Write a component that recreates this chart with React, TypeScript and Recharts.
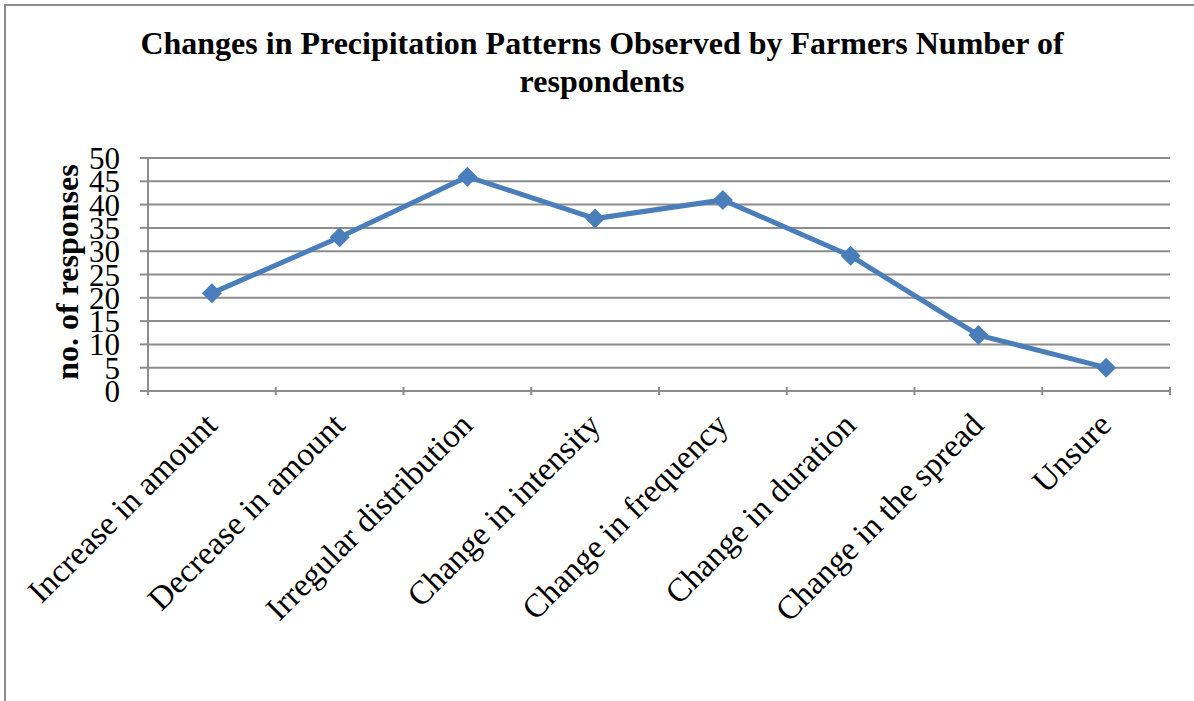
import { LineChart, Line, XAxis, YAxis, CartesianGrid } from 'recharts';

const categories = [
  'Increase in amount',
  'Decrease in amount',
  'Irregular distribution',
  'Change in intensity',
  'Change in frequency',
  'Change in duration',
  'Change in the spread',
  'Unsure',
];

const responses = [21, 33, 46, 37, 41, 29, 12, 5];

const yTicks = [0, 5, 10, 15, 20, 25, 30, 35, 40, 45, 50];

// category boundaries for the x tick marks
const boundaryTicks = [0, 1, 2, 3, 4, 5, 6, 7, 8];

const serif = "'Liberation Serif', 'Times New Roman', serif";
const blue = '#4A7EBB';
const gray = '#8c8c8c';

const data = categories.map((name, i) => ({ name, pos: i + 0.5, responses: responses[i] }));

function Diamond(props: any) {
  const { cx, cy } = props;
  if (cx == null || cy == null) return null;
  const r = 10;
  return (
    <polygon
      points={`${cx},${cy - r} ${cx + r},${cy} ${cx},${cy + r} ${cx - r},${cy}`}
      fill={blue}
    />
  );
}

function CategoryTick(props: any) {
  const { x, y, payload } = props;
  const tx = x + 7;
  const ty = y + 18;
  return (
    <text
      x={tx}
      y={ty}
      transform={`rotate(-45, ${tx}, ${ty})`}
      textAnchor="end"
      fontFamily={serif}
      fontSize={33}
      fill="#000"
    >
      {payload.value}
    </text>
  );
}

function BoundaryTick(props: any) {
  const { x, y } = props;
  return <line x1={x} y1={y - 10} x2={x} y2={y - 2} stroke={gray} strokeWidth={2} />;
}

function AxisTitle() {
  return (
    <text
      x={78}
      y={272}
      transform="rotate(-90, 78, 272)"
      textAnchor="middle"
      fontFamily={serif}
      fontSize={32}
      fontWeight="bold"
      fill="#000"
    >
      no. of responses
    </text>
  );
}

export default function App() {
  return (
    <div
      style={{
        position: 'absolute',
        left: 0,
        top: 0,
        width: 1194,
        height: 701,
        background: '#fff',
        overflow: 'hidden',
      }}
    >
      <div
        style={{
          position: 'absolute',
          left: 4,
          top: 4,
          width: 1190,
          height: 697,
          borderLeft: `2px solid ${gray}`,
          borderTop: `2px solid ${gray}`,
        }}
      />
      <div
        style={{
          position: 'absolute',
          left: 0,
          top: 24,
          width: 1204,
          textAlign: 'center',
          fontFamily: serif,
          fontWeight: 'bold',
          fontSize: 32,
          lineHeight: '38px',
          color: '#000',
        }}
      >
        Changes in Precipitation Patterns Observed by Farmers Number of
        <br />
        respondents
      </div>
      <div style={{ position: 'absolute', left: 0, top: 0 }}>
        <LineChart
          width={1194}
          height={701}
          data={data}
          margin={{ top: 158, right: 24, bottom: 0, left: 0 }}
        >
          <CartesianGrid
            horizontal
            vertical={false}
            stroke={gray}
            strokeWidth={2}
            xAxisId="cat"
          />
          <XAxis
            xAxisId="b"
            type="number"
            dataKey="pos"
            domain={[0, 8]}
            ticks={boundaryTicks}
            interval={0}
            height={10}
            tickLine={false}
            tick={<BoundaryTick />}
            tickMargin={0}
            axisLine={{ stroke: gray, strokeWidth: 2 }}
            allowDataOverflow
          />
          <XAxis
            xAxisId="cat"
            dataKey="name"
            scale="band"
            height={300}
            axisLine={false}
            tickLine={false}
            interval={0}
            tick={<CategoryTick />}
          />
          <YAxis
            width={148}
            domain={[0, 50]}
            ticks={yTicks}
            interval={0}
            tickSize={8}
            tickMargin={20}
            axisLine={{ stroke: gray, strokeWidth: 2 }}
            tickLine={{ stroke: gray, strokeWidth: 2 }}
            tick={{ fontFamily: serif, fontSize: 31, fill: '#000' }}
            label={<AxisTitle />}
          />
          <Line
            xAxisId="cat"
            type="linear"
            dataKey="responses"
            stroke={blue}
            strokeWidth={5}
            dot={<Diamond />}
            activeDot={false}
            isAnimationActive={false}
          />
        </LineChart>
      </div>
    </div>
  );
}
